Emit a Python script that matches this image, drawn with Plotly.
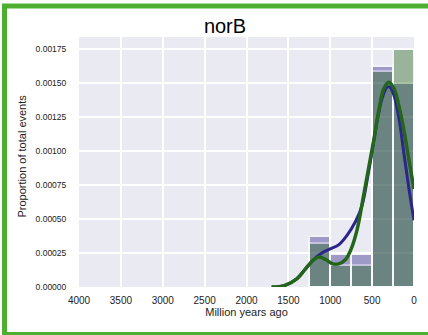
import plotly.graph_objects as go

# Histogram bins (Million years ago): 250-Myr wide bins from 0 to 1250
bin_centers = [125, 375, 625, 875, 1125]
bin_width = 250

# Normalised histogram heights (proportion of total events per Myr)
hist_blue = [0.00150, 0.001625, 0.00024, 0.00024, 0.000375]
hist_green = [0.00175, 0.00159, 0.000163, 0.000163, 0.00032]

# Smoothed density curves
kde_x_blue = [1700, 1550, 1400, 1300, 1200, 1100, 1000, 900, 800, 700, 620,
              550, 500, 440, 380, 320, 290, 240, 180, 120, 60, 0]
kde_y_blue = [0.0, 0.00001, 0.00006, 0.00013, 0.0002, 0.00025, 0.00028,
              0.00031, 0.00038, 0.00048, 0.0006, 0.00082, 0.001, 0.00122,
              0.00139, 0.00147, 0.00147, 0.00141, 0.00124, 0.00098,
              0.00072, 0.00049]

kde_x_green = [1700, 1550, 1400, 1300, 1200, 1130, 1050, 970, 900, 820, 750,
               680, 600, 540, 480, 420, 360, 300, 240, 180, 120, 60, 0]
kde_y_green = [0.0, 0.00001, 0.00006, 0.00013, 0.0002, 0.00022, 0.0002,
               0.00017, 0.00017, 0.0002, 0.00028, 0.00042, 0.00068,
               0.00088, 0.00108, 0.0013, 0.00146, 0.001505, 0.00146,
               0.00133, 0.00115, 0.00093, 0.00072]

x_ticks = [4000, 3500, 3000, 2500, 2000, 1500, 1000, 500, 0]
y_ticks = [0.0, 0.00025, 0.0005, 0.00075, 0.001, 0.00125, 0.0015, 0.00175]
y_tick_text = [f"{v:.5f}" for v in y_ticks]

BLUE = "rgb(44,37,140)"
GREEN = "rgb(34,101,27)"

fig = go.Figure()
fig.add_trace(go.Bar(x=bin_centers, y=hist_blue, width=bin_width,
                     marker=dict(color=BLUE, line=dict(color="white", width=2)),
                     opacity=0.4, showlegend=False))
fig.add_trace(go.Bar(x=bin_centers, y=hist_green, width=bin_width,
                     marker=dict(color=GREEN, line=dict(color="white", width=2)),
                     opacity=0.4, showlegend=False))
fig.add_trace(go.Scatter(x=kde_x_blue, y=kde_y_blue, mode="lines",
                         line=dict(color=BLUE, width=3, shape="spline"),
                         showlegend=False))
fig.add_trace(go.Scatter(x=kde_x_green, y=kde_y_green, mode="lines",
                         line=dict(color=GREEN, width=3.5, shape="spline"),
                         showlegend=False))

font_family = "Liberation Sans, Arial, sans-serif"

fig.update_layout(
    width=428, height=335,
    margin=dict(l=79, r=14, t=37, b=48, pad=0),
    paper_bgcolor="white",
    plot_bgcolor="#eaeaf2",
    barmode="overlay",
    bargap=0,
    font=dict(family=font_family, color="#222222"),
    title=dict(text="norB", x=(225 - 79) / 335, xref="paper", xanchor="center",
               y=1 - 26 / 335, yanchor="middle",
               font=dict(size=20, color="black", family=font_family)),
    xaxis=dict(range=[4000, 0], tickvals=x_ticks,
               ticktext=[str(v) for v in x_ticks],
               showgrid=True, gridcolor="white", gridwidth=1.8,
               zeroline=False, showline=False,
               ticks="outside", ticklen=4, tickcolor="rgba(0,0,0,0)",
               tickfont=dict(size=10, color="#222222"),
               title=dict(text="Million years ago", standoff=3,
                          font=dict(size=11, color="#222222"))),
    yaxis=dict(range=[0, 0.001838], tickvals=y_ticks, ticktext=y_tick_text,
               showgrid=True, gridcolor="white", gridwidth=1.8,
               zeroline=False, showline=False,
               ticks="outside", ticklen=10, tickcolor="rgba(0,0,0,0)",
               tickfont=dict(size=8.5, color="#222222")),
)

# Y-axis label placed left of the tick labels
fig.add_annotation(text="Proportion of total events", textangle=-90,
                   xref="paper", yref="paper",
                   x=(21.5 - 79) / 335, y=(287 - 156) / 250,
                   xanchor="center", yanchor="middle", showarrow=False,
                   font=dict(size=11, color="#222222", family=font_family))

# Green frame around the figure
fig.add_shape(type="rect", xref="paper", yref="paper",
              x0=(4.5 - 79) / 335, x1=(445 - 79) / 335,
              y0=(287 - 334.5) / 250, y1=(287 - 6) / 250,
              line=dict(color="#4caf30", width=5), fillcolor="rgba(0,0,0,0)",
              layer="above")

fig.write_html("out.html")
